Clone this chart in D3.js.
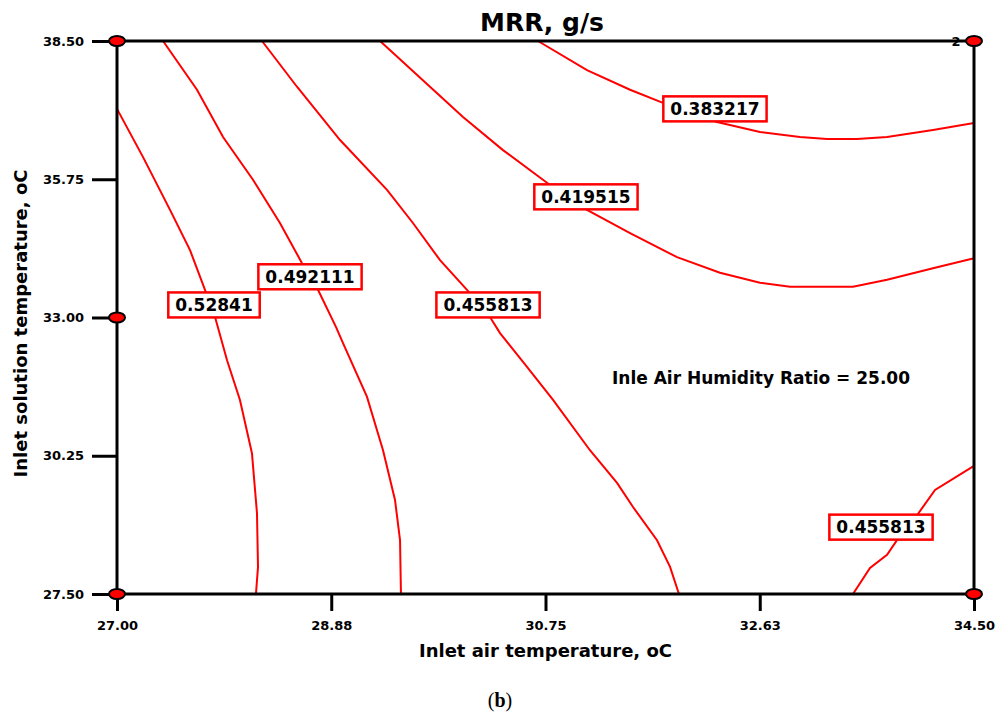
<!DOCTYPE html>
<html>
<head>
<meta charset="utf-8">
<script src="https://cdn.jsdelivr.net/npm/d3@7"></script>
<style>
  body { margin: 0; background: #fff; }
  svg { display: block; }
</style>
</head>
<body>
<div id="chart"></div>
<script>
////////////////////////////////////////////////////////////////////////////////
// Data (x = inlet air temp, y = inlet solution temp)
////////////////////////////////////////////////////////////////////////////////
var xTicks = [27.00, 28.875, 30.75, 32.625, 34.50];
var xTickLabels = ["27.00", "28.88", "30.75", "32.63", "34.50"];
var yTicks = [27.50, 30.25, 33.00, 35.75, 38.50];
var yTickLabels = ["27.50", "30.25", "33.00", "35.75", "38.50"];

var levels = ["0.52841", "0.492111", "0.455813", "0.419515", "0.383217", "0.455813"];

var line52841 = [[27.000,37.15],[27.228,36.19],[27.464,35.14],[27.639,34.34],[27.770,33.55],
  [27.858,33.01],[27.963,32.15],[28.076,31.36],[28.181,30.30],[28.225,29.11],[28.234,28.04],[28.216,27.50]];
var line492111 = [[27.403,38.50],[27.700,37.53],[27.928,36.59],[28.190,35.74],[28.426,34.88],
  [28.619,34.08],[28.759,33.55],[28.917,32.81],[28.978,32.49],[29.188,31.42],[29.328,30.36],
  [29.433,29.37],[29.477,28.57],[29.485,27.50]];
var line455813 = [[28.269,38.50],[28.575,37.59],[28.952,36.53],[29.363,35.54],[29.590,34.88],
  [29.827,34.14],[30.063,33.55],[30.264,33.01],[30.352,32.69],[30.588,32.02],[30.816,31.36],
  [31.139,30.36],[31.376,29.71],[31.516,29.23],[31.726,28.57],[31.840,28.04],[31.918,27.50]];
var line419515 = [[29.302,38.50],[29.739,37.59],[30.028,36.99],[30.378,36.33],[30.763,35.68],
  [31.113,35.14],[31.490,34.68],[31.901,34.20],[32.277,33.89],[32.627,33.69],[32.890,33.61],
  [33.441,33.61],[33.739,33.75],[34.141,33.98],[34.500,34.18]];
var line383217 = [[30.684,38.50],[31.113,37.92],[31.490,37.53],[31.778,37.27],[32.251,36.89],
  [32.627,36.69],[32.977,36.59],[33.214,36.55],[33.476,36.55],[33.739,36.59],[34.141,36.73],[34.500,36.87]];
var line455813b = [[33.441,27.50],[33.590,28.02],[33.739,28.28],[33.826,28.57],[33.940,28.87],
  [34.159,29.57],[34.500,30.05]];

// where each contour label sits (centre of its box)
var labelX = [27.849, 28.689, 30.247, 31.104, 32.233, 33.686];
var labelY = [33.25, 33.81, 33.25, 35.40, 37.15, 28.83];

// design points shown as red markers
var designPts = [[27.0,38.5],[27.0,33.0],[27.0,27.5],[34.5,38.5],[34.5,27.5]];

var contours = [line52841, line492111, line455813, line419515, line383217, line455813b];

////////////////////////////////////////////////////////////////////////////////
// Setup
////////////////////////////////////////////////////////////////////////////////
var W = 1000, H = 725;
var plotL = 117, plotR = 974, plotT = 41, plotB = 594;
var FONT = "'DejaVu Sans', Verdana, sans-serif";

var svg = d3.select("#chart").append("svg")
  .attr("width", W)
  .attr("height", H);

var x = d3.scaleLinear().domain([27, 34.5]).range([plotL, plotR]);
var y = d3.scaleLinear().domain([27.5, 38.5]).range([plotB, plotT]);

// Axes (ticks only, frame is drawn separately)
var xAxis = svg.append("g")
  .attr("transform", "translate(0," + plotB + ")")
  .call(d3.axisBottom(x).tickValues(xTicks)
    .tickFormat(function(d, i) { return xTickLabels[i]; })
    .tickSize(17).tickSizeOuter(0).tickPadding(10));
xAxis.select(".domain").remove();

var yAxis = svg.append("g")
  .attr("transform", "translate(" + plotL + ",0)")
  .call(d3.axisLeft(y).tickValues(yTicks)
    .tickFormat(function(d, i) { return yTickLabels[i]; })
    .tickSize(25).tickSizeOuter(0).tickPadding(8));
yAxis.select(".domain").remove();

svg.selectAll(".tick line").attr("stroke", "#000").attr("stroke-width", 3);
svg.selectAll(".tick text")
  .attr("font-family", FONT)
  .attr("font-weight", "bold")
  .attr("font-size", "13px")
  .attr("fill", "#000");

////////////////////////////////////////////////////////////////////////////////
// Contour lines
////////////////////////////////////////////////////////////////////////////////
var line = d3.line()
  .x(function(d) { return x(d[0]); })
  .y(function(d) { return y(d[1]); })
  .curve(d3.curveLinear);

svg.append("g").selectAll("path")
  .data(contours)
  .enter()
  .append("path")
  .attr("d", line)
  .attr("fill", "none")
  .attr("stroke", "#ff0000")
  .attr("stroke-width", 2);

// Frame
svg.append("rect")
  .attr("x", plotL).attr("y", plotT)
  .attr("width", plotR - plotL).attr("height", plotB - plotT)
  .attr("fill", "none")
  .attr("stroke", "#000")
  .attr("stroke-width", 3);

////////////////////////////////////////////////////////////////////////////////
// Contour labels, white boxes with red outline
////////////////////////////////////////////////////////////////////////////////
var lab = svg.append("g").selectAll("g")
  .data(levels.map(function(d, i) { return {text: d, cx: labelX[i], cy: labelY[i]}; }))
  .enter()
  .append("g");

lab.append("rect")
  .attr("fill", "#fff")
  .attr("stroke", "#ff0000")
  .attr("stroke-width", 2.5);

lab.append("text")
  .text(function(d) { return d.text; })
  .attr("x", function(d) { return x(d.cx); })
  .attr("y", function(d) { return y(d.cy); })
  .attr("dy", "0.36em")
  .attr("text-anchor", "middle")
  .attr("font-family", FONT)
  .attr("font-weight", "bold")
  .attr("font-size", "17px")
  .attr("fill", "#000");

lab.each(function() {
  var g = d3.select(this);
  var bb = g.select("text").node().getBBox();
  var d = g.datum();
  var w = bb.width + 14, h = 25;
  g.select("rect")
    .attr("x", x(d.cx) - w / 2)
    .attr("y", y(d.cy) - h / 2)
    .attr("width", w)
    .attr("height", h);
});

////////////////////////////////////////////////////////////////////////////////
// Design point markers
////////////////////////////////////////////////////////////////////////////////
svg.append("g").selectAll("ellipse")
  .data(designPts)
  .enter()
  .append("ellipse")
  .attr("cx", function(d) { return x(d[0]); })
  .attr("cy", function(d) { return y(d[1]); })
  .attr("rx", 8)
  .attr("ry", 5)
  .attr("fill", "#ff0000")
  .attr("stroke", "#000")
  .attr("stroke-width", 2);

svg.append("text")
  .text("2")
  .attr("x", x(34.5) - 18)
  .attr("y", y(38.5) + 5)
  .attr("text-anchor", "middle")
  .attr("font-family", FONT)
  .attr("font-weight", "bold")
  .attr("font-size", "13px");

////////////////////////////////////////////////////////////////////////////////
// Titles
////////////////////////////////////////////////////////////////////////////////
svg.append("text")
  .text("MRR, g/s")
  .attr("x", 542).attr("y", 31)
  .attr("text-anchor", "middle")
  .attr("font-family", FONT)
  .attr("font-weight", "bold")
  .attr("font-size", "25px");

svg.append("text")
  .text("Inlet air temperature, oC")
  .attr("x", (plotL + plotR) / 2).attr("y", 657)
  .attr("text-anchor", "middle")
  .attr("font-family", FONT)
  .attr("font-weight", "bold")
  .attr("font-size", "18px");

svg.append("text")
  .text("Inlet solution temperature, oC")
  .attr("transform", "translate(27," + ((plotT + plotB) / 2 + 6) + ") rotate(-90)")
  .attr("text-anchor", "middle")
  .attr("font-family", FONT)
  .attr("font-weight", "bold")
  .attr("font-size", "18px");

svg.append("text")
  .text("Inle Air Humidity Ratio = 25.00")
  .attr("x", 612).attr("y", 384)
  .attr("font-family", FONT)
  .attr("font-weight", "bold")
  .attr("font-size", "17px");

var cap = svg.append("text")
  .attr("x", 500).attr("y", 707)
  .attr("text-anchor", "middle")
  .attr("font-family", "'Liberation Serif', 'Times New Roman', serif")
  .attr("font-size", "20px");
cap.append("tspan").text("(");
cap.append("tspan").attr("font-weight", "bold").text("b");
cap.append("tspan").text(")");
</script>
</body>
</html>
